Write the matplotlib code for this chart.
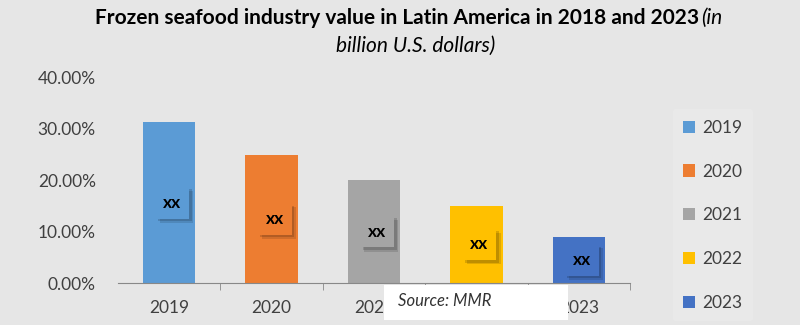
import matplotlib.pyplot as plt
import matplotlib.patheffects as pe
from matplotlib.patches import Patch

years = ['2019', '2020', '2021', '2022', '2023']
values = [31.2, 24.9, 20.0, 15.0, 9.0]
bar_labels = ['xx', 'xx', 'xx', 'xx', 'xx']
colors = ['#5B9BD5', '#ED7D31', '#A5A5A5', '#FFC000', '#4472C4']

plt.rcParams['font.family'] = ['Lato', 'DejaVu Sans']

fig = plt.figure(figsize=(8, 3.25), dpi=100)
fig.patch.set_facecolor('#e6e6e6')
ax = fig.add_axes([0.1475, 0.129, 0.64, 0.634])
ax.set_facecolor('#e6e6e6')

x = range(len(years))
bars = ax.bar(x, values, width=0.51, color=colors)

# ---------- value boxes with a soft shadow ----------
for i, b in enumerate(bars):
    t = ax.text(i + 0.03, values[i] / 2, bar_labels[i], ha='center', va='center',
                fontsize=12.5, fontweight='bold', color='black',
                bbox=dict(boxstyle='square,pad=0.45', facecolor=colors[i],
                          edgecolor='none'))
    t.get_bbox_patch().set_path_effects([
        pe.SimplePatchShadow(offset=(3, -3), shadow_rgbFace='#000000', alpha=0.12),
        pe.SimplePatchShadow(offset=(1.8, -1.8), shadow_rgbFace='#000000', alpha=0.15),
        pe.Normal()])

ax.set_xlim(-0.5, 4.5)
ax.set_ylim(0, 40)
ax.set_yticks([0, 10, 20, 30, 40])
ax.set_yticklabels(['0.00%', '10.00%', '20.00%', '30.00%', '40.00%'])
ax.set_xticks(list(x))
ax.set_xticklabels(years)
ax.set_xticks([0.5, 1.5, 2.5, 3.5, 4.5], minor=True)
ax.tick_params(axis='y', length=0, labelsize=12.5, labelcolor='#404040', pad=16)
ax.tick_params(axis='x', which='major', length=0, labelsize=12.5,
               labelcolor='#404040', pad=12)
ax.tick_params(axis='x', which='minor', length=5, color='#888888', direction='out')

for s in ['top', 'right', 'left']:
    ax.spines[s].set_visible(False)
ax.spines['bottom'].set_color('#888888')

# ---------- legend ----------
handles = [Patch(facecolor=c, label=y) for c, y in zip(colors, years)]
leg = fig.legend(handles=handles, loc='upper left', bbox_to_anchor=(0.83, 0.69),
                 frameon=True, fontsize=12.5, labelspacing=1.6,
                 handlelength=0.7, handleheight=0.7, handletextpad=0.4,
                 borderpad=0.6)
leg.get_frame().set_facecolor('#ebebeb')
leg.get_frame().set_edgecolor('none')
for t in leg.get_texts():
    t.set_color('#404040')

# ---------- title ----------
t1 = fig.text(95 / 800, 0.945,
              'Frozen seafood industry value in Latin America in 2018 and 2023',
              ha='left', va='center', fontsize=15, fontweight='bold', color='black')
fig.canvas.draw()
bb = t1.get_window_extent()
fig.text(bb.x1 / 800 + 0.002, 0.945, '(in', ha='left', va='center',
         fontsize=15, style='italic', color='black')
fig.text(0.52, 0.86, 'billion U.S. dollars)', ha='center', va='center',
         fontsize=15, style='italic', color='black')

# ---------- source box ----------
fig.patches.append(plt.Rectangle((0.48, 0.015), 0.23, 0.108,
                                 transform=fig.transFigure, facecolor='white',
                                 edgecolor='none', zorder=5))
fig.text(0.4975, 0.075, 'Source: MMR', ha='left', va='center', fontsize=12,
         style='italic', color='#333333', zorder=6)

fig.savefig('out.png', dpi=100, facecolor=fig.get_facecolor())
